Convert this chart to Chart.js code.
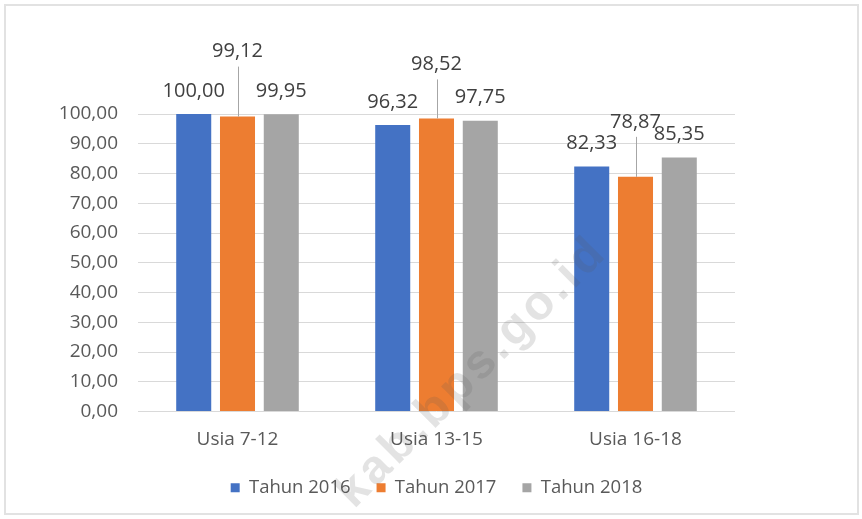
<!DOCTYPE html>
<html>
<head>
<meta charset="utf-8">
<script src="https://cdn.jsdelivr.net/npm/chart.js@4.4.1/dist/chart.umd.min.js"></script>
<style>
  html, body { margin: 0; padding: 0; background: #ffffff; }
  #wrap { position: relative; width: 862px; height: 519px; overflow: hidden; }
  #frame {
    position: absolute; left: 4px; top: 4px; width: 851px; height: 507px;
    border: 2px solid #e2e2e2; pointer-events: none;
  }
  #wm {
    position: absolute; left: 470px; top: 370px;
    transform: translate(-50%, -50%) rotate(-45deg);
    font: bold 48px "Liberation Sans", Arial, sans-serif;
    letter-spacing: 4px; white-space: nowrap;
    color: rgba(90, 90, 90, 0.17); pointer-events: none;
  }
</style>
</head>
<body>
<div id="wrap">
  <canvas id="chart" width="862" height="519"></canvas>
  <div id="frame"></div>
  <div id="wm">kab.bps.go.id</div>
</div>
<script>
// ─── Data ─────────────────────────────────────────────────────
const CATEGORIES = ['Usia 7-12', 'Usia 13-15', 'Usia 16-18'];
const SERIES_NAMES = ['Tahun 2016', 'Tahun 2017', 'Tahun 2018'];
const TAHUN_2016 = [100.00, 96.32, 82.33];
const TAHUN_2017 = [99.12, 98.52, 78.87];
const TAHUN_2018 = [99.95, 97.75, 85.35];
const Y_TICKS = [0, 10, 20, 30, 40, 50, 60, 70, 80, 90, 100];

const COLORS = ['#4472C4', '#ED7D31', '#A5A5A5'];
// orange labels were dragged up in the original, with leader lines
const LIFT_2017 = [65, 54, 55];

const fmt = v => Number(v).toFixed(2).replace('.', ',');
const FONT = '"Open Sans", "Liberation Sans", sans-serif';

// ─── Data labels + leader lines ───────────────────────────────
const dataLabels = {
  id: 'dataLabels',
  afterDatasetsDraw(chart) {
    const ctx = chart.ctx;
    ctx.save();
    ctx.font = '20px ' + FONT;
    ctx.textAlign = 'center';
    ctx.textBaseline = 'middle';
    chart.data.datasets.forEach((ds, i) => {
      const meta = chart.getDatasetMeta(i);
      meta.data.forEach((bar, j) => {
        const leader = i === 1;
        const cy = leader ? bar.y - LIFT_2017[j] : bar.y - 23;
        if (leader) {
          ctx.strokeStyle = '#a6a6a6';
          ctx.lineWidth = 1;
          ctx.beginPath();
          ctx.moveTo(Math.round(bar.x) + 0.5, cy + 15);
          ctx.lineTo(Math.round(bar.x) + 0.5, bar.y);
          ctx.stroke();
        }
        ctx.fillStyle = '#404040';
        ctx.fillText(fmt(ds.data[j]), bar.x, cy);
      });
    });
    ctx.restore();
  }
};

const canvas = document.getElementById('chart');
new Chart(canvas, {
  type: 'bar',
  data: {
    labels: CATEGORIES,
    datasets: [TAHUN_2016, TAHUN_2017, TAHUN_2018].map((d, i) => ({
      label: SERIES_NAMES[i],
      data: d,
      backgroundColor: COLORS[i],
      borderWidth: 0,
      categoryPercentage: 0.66,
      barPercentage: 0.8,
    }))
  },
  options: {
    responsive: false,
    animation: false,
    devicePixelRatio: 1,
    layout: { padding: { top: 114, right: 127, left: 0, bottom: 12 } },
    plugins: {
      legend: {
        position: 'bottom',
        fullSize: false,
        labels: {
          boxWidth: 9,
          boxHeight: 9,
          padding: 26,
          color: '#595959',
          font: { family: FONT, size: 18.5 }
        }
      },
      tooltip: { enabled: false }
    },
    scales: {
      x: {
        grid: { display: false },
        border: { display: false },
        ticks: { color: '#595959', padding: 9, font: { family: FONT, size: 19 } },
        afterFit: s => { s.height = 41; }
      },
      y: {
        min: 0,
        max: 100,
        afterBuildTicks: s => { s.ticks = Y_TICKS.map(v => ({ value: v })); },
        grid: { color: '#d9d9d9', drawTicks: false },
        border: { display: false },
        ticks: {
          color: '#595959',
          padding: 20,
          font: { family: FONT, size: 19 },
          callback: v => fmt(v)
        },
        afterFit: s => { s.width = 138; }
      }
    }
  },
  plugins: [dataLabels]
});
</script>
</body>
</html>
